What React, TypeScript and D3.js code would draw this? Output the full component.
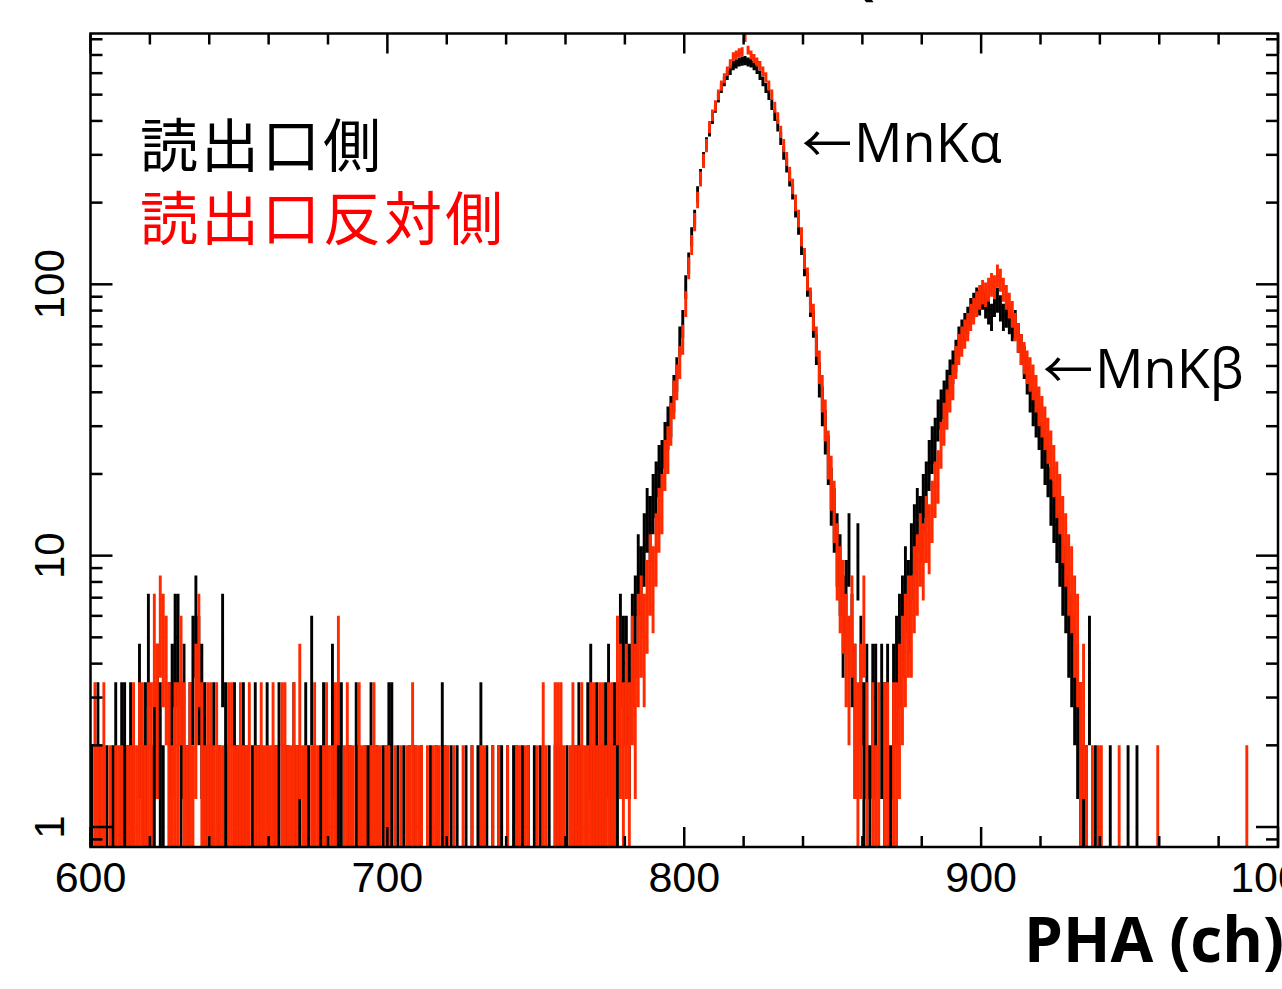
import React from 'react';
import * as d3 from 'd3';

const CHANNEL_START = 600;

// 読出口側 (black) counts per channel, 600..999
const readoutSide = [
  1,0,2,1,0,1,0,1,2,0,
  2,2,1,2,1,0,3,1,2,5,
  1,2,3,2,1,0,2,3,5,5,
  2,3,1,2,4,6,4,3,2,1,
  1,2,0,1,5,2,1,0,2,1,
  1,2,1,0,1,2,1,1,0,2,
  0,1,1,2,0,1,1,0,2,1,
  1,0,2,1,4,1,0,1,2,1,
  0,3,1,2,2,0,1,1,0,2,
  1,0,1,1,2,0,1,0,1,1,
  2,2,0,1,0,1,0,1,0,1,
  0,1,0,0,1,0,1,0,2,1,
  0,1,0,1,0,0,1,0,1,0,
  1,2,0,1,0,1,0,1,1,0,
  1,0,1,1,0,1,0,1,0,1,
  0,1,0,0,1,0,1,1,1,0,
  1,0,1,1,2,1,0,2,3,1,
  2,1,1,2,3,1,2,2,5,4,
  4,3,5,6,9,8,11,14,13,16,
  18,21,22,26,30,33,40,47,62,72,
  98,120,150,175,215,250,290,330,370,410,
  450,490,530,560,590,615,640,650,660,665,
  668,660,655,640,620,590,560,530,500,460,
  420,385,345,305,275,245,220,190,165,140,
  118,100,85,72,58,45,36,29,23,17,
  14,11,9,6,7,11,5,3,10,4,
  2,3,1,3,3,0,3,2,3,1,
  3,4,5,6,8,7,10,12,14,13,
  16,18,22,25,27,32,35,38,42,46,
  50,55,62,66,70,74,80,84,88,86,
  90,84,80,76,85,88,82,76,78,74,
  70,72,64,58,52,46,40,36,33,30,
  26,23,21,17,15,13,11,9,8,6,
  5,4,3,2,1,1,4,0,1,0,
  0,0,0,1,0,0,0,0,0,1,
  0,0,1,0,0,0,0,0,0,0,
  0,0,0,0,0,0,0,0,0,0,
  0,0,0,0,0,0,0,0,0,0,
  0,0,0,0,0,0,0,0,0,0,
  0,0,0,0,0,0,0,0,0,0,
];

// 読出口反対側 (red) counts per channel, 600..999
const oppositeSide = [
  0,2,1,1,2,0,1,0,1,1,
  1,0,1,1,2,1,2,2,1,2,
  2,5,3,6,5,4,2,1,2,2,
  4,2,1,2,1,3,5,2,1,2,
  2,1,2,1,1,0,2,2,1,1,
  2,1,1,2,0,1,1,2,1,1,
  1,2,1,0,2,2,1,1,2,1,
  3,1,1,0,1,2,1,0,1,2,
  1,1,2,4,0,1,2,1,1,0,
  2,1,1,0,1,2,1,1,0,1,
  1,0,1,0,1,0,1,1,2,1,
  1,1,0,1,0,1,1,1,0,1,
  1,0,1,0,0,1,0,0,1,0,
  0,1,1,0,0,1,0,1,0,0,
  1,0,0,1,1,0,1,1,0,0,
  1,0,2,1,0,0,2,2,2,1,
  0,1,2,1,1,2,1,1,2,2,
  1,2,2,1,2,2,1,4,3,2,
  3,2,4,3,5,6,5,7,9,8,
  11,14,16,22,25,31,38,44,52,63,
  85,115,140,170,205,245,285,325,380,420,
  455,500,540,575,610,650,690,700,715,720,
  810,730,700,680,660,640,610,580,540,500,
  450,410,365,325,290,255,230,200,175,150,
  125,105,88,76,62,50,40,32,24,19,
  15,10,8,7,5,4,6,3,2,3,
  6,2,0,2,1,2,0,2,2,0,
  2,2,3,4,5,6,6,8,9,11,
  10,13,12,15,18,20,26,31,35,40,
  44,52,58,62,66,70,76,80,85,90,
  94,92,96,100,98,108,104,96,90,84,
  78,70,64,58,54,50,47,44,40,36,
  33,30,27,24,21,18,16,13,11,9,
  8,6,5,2,3,1,0,1,0,1,
  1,0,0,0,0,0,1,0,0,0,
  0,0,0,0,0,0,0,0,0,1,
  0,0,0,0,0,0,0,0,0,0,
  0,0,0,0,0,0,0,0,0,0,
  0,0,0,0,0,0,0,0,0,1,
  0,0,0,0,0,0,0,0,0,0,
];

const xTickValues = [600, 700, 800, 900, 1000];
const xTickLabels = ['600', '700', '800', '900', '1000'];
const yTickValues = [1, 10, 100];
const yTickLabels = ['1', '10', '100'];
const legendLabels = ['読出口側', '読出口反対側'];
const seriesColors = ['#000000', '#ff2a00'];
const legendColors = ['#000000', '#ff0000'];
const peakNames = ['MnKα', 'MnKβ'];
const arrowGlyph = '←';
const xAxisTitle = 'PHA (ch)';

const W = 1282;
const H = 989;
const PL = 90.5, PR = 1278, PT = 33.5, PB = 847;

function histPath(counts: number[], x: d3.ScaleLinear<number, number>, y: d3.ScaleLogarithmic<number, number>, yMin: number) {
  const p = d3.path();
  counts.forEach((n, i) => {
    if (n <= 0) return;
    const ch = CHANNEL_START + i;
    const x0 = x(ch), x1 = x(ch + 1), xm = x(ch + 0.5);
    const yv = y(n);
    const err = Math.sqrt(n);
    const lo = n - err;
    const ylo = lo > yMin ? y(lo) : PB + 2;
    const yhi = y(n + err);
    p.moveTo(x0, yv); p.lineTo(x1, yv);
    p.moveTo(xm, ylo); p.lineTo(xm, yhi);
  });
  return p.toString();
}

export default function App() {
  const yMin = 0.844, yMax = 840;
  const x = d3.scaleLinear().domain([600, 1000]).range([PL, PR]);
  const y = d3.scaleLog().domain([yMin, yMax]).range([PB, PT]);

  const xMinor = d3.range(600, 1001, 20).filter((v) => v % 100 !== 0);
  const yMinor: number[] = [];
  [0.1, 1, 10, 100].forEach((d) => {
    for (let k = 2; k <= 9; k++) {
      const v = d * k;
      if (v >= yMin && v <= yMax) yMinor.push(v);
    }
  });

  const tickStroke = { stroke: '#000', strokeWidth: 2.5 };
  const numFont = '"Liberation Sans", Arial, Helvetica, sans-serif';
  const annFont = '"Open Sans", sans-serif';
  const cjkFont = '"Noto Sans CJK JP", sans-serif';
  const annPos = [
    { x: 802, y: 162 },
    { x: 1043, y: 388 },
  ];

  return (
    <svg width={W} height={H} style={{ position: 'absolute', left: 0, top: 0, background: '#fff' }}>
      <defs>
        <clipPath id="plot">
          <rect x={PL} y={PT} width={PR - PL} height={PB - PT} />
        </clipPath>
      </defs>
      <rect x={0} y={0} width={W} height={H} fill="#fff" />

      {/* cropped title remnants */}
      <text x={855} y={-7} fontFamily={annFont} fontWeight="bold" fontSize={60} fill="#000">(</text>
      <text x={1192} y={-12} fontFamily={annFont} fontWeight="bold" fontSize={60} fill="#000">)</text>

      <g clipPath="url(#plot)">
        {[readoutSide, oppositeSide].map((counts, si) => (
          <path key={si} d={histPath(counts, x, y, yMin)} fill="none" stroke={seriesColors[si]} strokeWidth={2.9} />
        ))}
      </g>

      {/* frame */}
      <rect x={PL} y={PT} width={PR - PL} height={PB - PT} fill="none" stroke="#000" strokeWidth={2.5} />

      {/* x ticks */}
      {xTickValues.map((v) => (
        <g key={'xm' + v}>
          <line x1={x(v)} x2={x(v)} y1={PB} y2={PB - 20} {...tickStroke} />
          <line x1={x(v)} x2={x(v)} y1={PT} y2={PT + 20} {...tickStroke} />
        </g>
      ))}
      {xMinor.map((v) => (
        <g key={'xn' + v}>
          <line x1={x(v)} x2={x(v)} y1={PB} y2={PB - 11} {...tickStroke} />
          <line x1={x(v)} x2={x(v)} y1={PT} y2={PT + 11} {...tickStroke} />
        </g>
      ))}
      {/* y ticks */}
      {yTickValues.map((v) => (
        <g key={'ym' + v}>
          <line x1={PL} x2={PL + 22} y1={y(v)} y2={y(v)} {...tickStroke} />
          <line x1={PR} x2={PR - 22} y1={y(v)} y2={y(v)} {...tickStroke} />
        </g>
      ))}
      {yMinor.map((v) => (
        <g key={'yn' + v}>
          <line x1={PL} x2={PL + 12} y1={y(v)} y2={y(v)} {...tickStroke} />
          <line x1={PR} x2={PR - 12} y1={y(v)} y2={y(v)} {...tickStroke} />
        </g>
      ))}

      {/* x tick labels */}
      {xTickValues.map((v, i) => (
        <text key={'xl' + v} x={x(v)} y={892} textAnchor="middle" fontFamily={numFont} fontSize={43} fill="#000">
          {xTickLabels[i]}
        </text>
      ))}
      {/* y tick labels */}
      {yTickValues.map((v, i) => (
        <text key={'yl' + v} transform={`translate(64,${y(v)}) rotate(-90)`} textAnchor="middle" fontFamily={numFont} fontSize={42} fill="#000">
          {yTickLabels[i]}
        </text>
      ))}

      {/* legend */}
      {legendLabels.map((t, i) => (
        <text key={t} x={140} y={167 + i * 73} fontFamily={cjkFont} fontSize={58} letterSpacing={3} fill={legendColors[i]}>
          {t}
        </text>
      ))}

      {/* peak annotations */}
      {peakNames.map((name, i) => (
        <text key={name} x={annPos[i].x} y={annPos[i].y} fill="#000">
          <tspan fontFamily={cjkFont} fontSize={50}>{arrowGlyph}</tspan>
          <tspan fontFamily={annFont} fontSize={54} dx={2}>{name}</tspan>
        </text>
      ))}

      {/* x axis title */}
      <text x={1284} y={962} textAnchor="end" fontFamily={annFont} fontWeight="bold" fontSize={62} fill="#000">
        {xAxisTitle}
      </text>
    </svg>
  );
}
